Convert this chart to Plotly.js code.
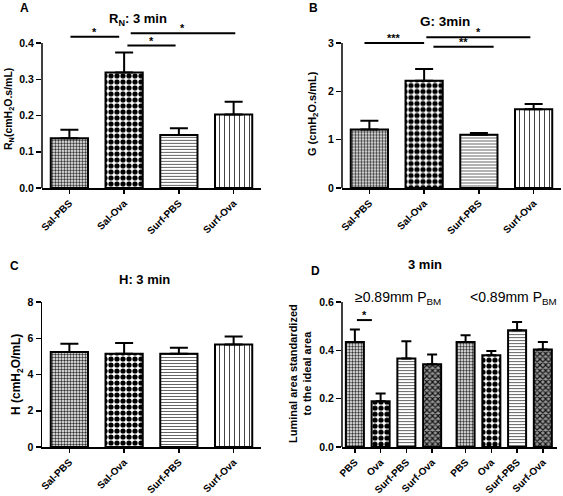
<!DOCTYPE html>
<html><head><meta charset="utf-8">
<script src="https://cdn.plot.ly/plotly-3.0.1.min.js"></script>
<style>html,body{margin:0;padding:0;background:#fff}</style>
</head><body><div id="chart" style="width:563px;height:496px"></div>
<script>
// ---------- data ----------
const groups = ['Sal-PBS', 'Sal-Ova', 'Surf-PBS', 'Surf-Ova'];
const rnMean = [0.137, 0.319, 0.146, 0.203];
const rnSem  = [0.024, 0.055, 0.019, 0.035];
const rnTicks = [0, 0.1, 0.2, 0.3, 0.4];
const rnSigFrom  = [0.02, 1.06, 1.12];
const rnSigTo    = [0.91, 1.94, 3.03];
const rnSigY     = [0.417, 0.393, 0.427];
const rnSigLabel = ['*', '*', '*'];

const gMean = [1.21, 2.22, 1.10, 1.63];
const gSem  = [0.18, 0.24, 0.04, 0.11];
const gTicks = [0, 1, 2, 3];
const gSigFrom  = [-0.09, 1.17, 1.04];
const gSigTo    = [1.00, 2.27, 2.94];
const gSigY     = [3.00, 2.92, 3.12];
const gSigLabel = ['***', '**', '*'];

const hMean = [5.24, 5.15, 5.15, 5.65];
const hSem  = [0.46, 0.59, 0.33, 0.45];
const hTicks = [0, 2, 4, 6, 8];

const dLabels = ['PBS', 'Ova', 'Surf-PBS', 'Surf-Ova'];
const dLargeMean = [0.434, 0.189, 0.366, 0.342];
const dLargeSem  = [0.052, 0.032, 0.071, 0.041];
const dSmallMean = [0.434, 0.379, 0.483, 0.403];
const dSmallSem  = [0.028, 0.018, 0.034, 0.031];
const dTicks = [0, 0.2, 0.4, 0.6];
const dSigFrom  = [0.08];
const dSigTo    = [0.66];
const dSigY     = [0.525];
const dSigLabel = ['*'];

// ---------- styles ----------
const FONT = 'Liberation Sans, Arial, sans-serif';
const W = 563, H = 496;
const px = v => v / W;
const py = v => (H - v) / H;

const patA = {shape: ['.', '.', '-', '|'], size: [3, 6, 3, 5], solidity: [0.5, 0.6, 0.35, 0.2],
              fgcolor: ['#333', '#000', '#666', '#444'], bgcolor: '#fff', fillmode: 'replace'};
const patD = {shape: ['.', '.', '-', 'x', '.', '.', '-', 'x'], size: [3, 6, 3, 4, 3, 6, 3, 4],
              solidity: [0.5, 0.6, 0.35, 0.5, 0.5, 0.6, 0.35, 0.5],
              fgcolor: ['#333', '#000', '#666', '#111', '#333', '#000', '#666', '#111'],
              bgcolor: ['#fff', '#fff', '#fff', '#999', '#fff', '#fff', '#fff', '#999'], fillmode: 'replace'};

function barTrace(x, y, sem, xa, ya, width, capw, pat) {
  return {type: 'bar', x: x, y: y, xaxis: xa, yaxis: ya, width: width,
    marker: {color: '#fff', line: {color: '#000', width: 2}, pattern: pat},
    error_y: {type: 'data', symmetric: false, array: sem, arrayminus: sem.map(() => 0),
              color: '#000', thickness: 2, width: capw},
    hoverinfo: 'skip', showlegend: false};
}

const idx = groups.map((_, i) => i);
const dX = dLabels.map((_, i) => i).concat(dLabels.map((_, i) => i + 4.3));

const traces = [
  barTrace(idx, rnMean, rnSem, 'x', 'y', 0.68, 9, patA),
  barTrace(idx, gMean, gSem, 'x2', 'y2', 0.68, 9, patA),
  barTrace(idx, hMean, hSem, 'x3', 'y3', 0.68, 9, patA),
  barTrace(dX, dLargeMean.concat(dSmallMean), dLargeSem.concat(dSmallSem), 'x4', 'y4', 0.7, 5, patD)
];

const tickFontX = {family: FONT, size: 10, color: '#000', weight: 'bold'};
const tickFontY = {family: FONT, size: 10.5, color: '#000', weight: 'bold'};

function xAxis(domain, anchor, range, tickvals, ticktext) {
  return {domain: domain, anchor: anchor, range: range, tickvals: tickvals, ticktext: ticktext,
    tickangle: -45, showline: true, linecolor: '#000', linewidth: 1.5, ticks: 'outside',
    ticklen: 4, tickwidth: 1.5, tickcolor: '#000', tickfont: tickFontX, showgrid: false,
    zeroline: false, fixedrange: true};
}
function yAxis(domain, anchor, range, tickvals, fmt, showline) {
  return {domain: domain, anchor: anchor, range: range, tickvals: tickvals, tickformat: fmt,
    showline: showline, linecolor: '#000', linewidth: 1.5, ticks: 'outside', ticklen: 5,
    tickwidth: 1.5, tickcolor: '#000', tickfont: tickFontY, showgrid: false, zeroline: false,
    fixedrange: true};
}

const shapes = [];
const annotations = [];
function yLine(xa, ya, top) {
  shapes.push({type: 'line', xref: xa + ' domain', x0: 0, x1: 0, yref: ya, y0: 0, y1: top,
               line: {color: '#000', width: 1.5}});
}
function sig(xa, ya, from, to, ys, labels, shift) {
  from.forEach((f, i) => {
    shapes.push({type: 'line', xref: xa, yref: ya, x0: f, x1: to[i], y0: ys[i], y1: ys[i],
                 line: {color: '#000', width: 2}});
    annotations.push({xref: xa, yref: ya, x: (f + to[i]) / 2, y: ys[i], text: labels[i],
      showarrow: false, yanchor: 'bottom', yshift: shift, font: {family: FONT, size: 11, color: '#000', weight: 'bold'}});
  });
}
yLine('x', 'y', 0.4);
yLine('x2', 'y2', 3);
yLine('x4', 'y4', 0.6);
sig('x', 'y', rnSigFrom, rnSigTo, rnSigY, rnSigLabel, -3);
sig('x2', 'y2', gSigFrom, gSigTo, gSigY, gSigLabel, -3);
sig('x4', 'y4', dSigFrom, dSigTo, dSigY, dSigLabel, -3);

function text(x, y, t, size, bold, extra) {
  annotations.push(Object.assign({xref: 'paper', yref: 'paper', x: px(x), y: py(y), text: t,
    showarrow: false, xanchor: 'center', yanchor: 'middle',
    font: {family: FONT, size: size, color: '#000', weight: bold ? 'bold' : 'normal'}}, extra || {}));
}
// panel letters
text(24, 8, 'A', 12, true);
text(313, 8, 'B', 12, true);
text(15, 266, 'C', 12, true);
text(315, 271, 'D', 12, true);
// panel titles
text(138, 19, 'R<sub>N</sub>: 3 min', 13, true);
text(445, 21, 'G: 3min', 13.5, true);
text(144, 279, 'H: 3 min', 13, true);
text(425, 264, '3 min', 13, true);
// y-axis titles
text(9, 109, 'R<sub>N</sub>(cmH<sub>2</sub>O.s/mL)', 10.5, true, {textangle: -90});
text(313, 114, 'G (cmH<sub>2</sub>O.s/mL)', 11, true, {textangle: -90});
text(17, 375, 'H (cmH<sub>2</sub>O/mL)', 12, true, {textangle: -90});
text(300, 374, 'Luminal area standardized<br>to the ideal area', 11, true, {textangle: -90});
// group captions in D
annotations.push({xref: 'x4', yref: 'y4', x: 1.67, y: 0.616, text: '≥0.89mm P<sub>BM</sub>', showarrow: false,
  font: {family: FONT, size: 14, color: '#000'}});
annotations.push({xref: 'x4', yref: 'y4', x: 6.15, y: 0.616, text: '<0.89mm P<sub>BM</sub>', showarrow: false,
  font: {family: FONT, size: 14, color: '#000'}});

const layout = {
  width: W, height: H, margin: {l: 0, r: 0, t: 0, b: 0},
  paper_bgcolor: '#fff', plot_bgcolor: 'rgba(0,0,0,0)', showlegend: false, bargap: 0,
  font: {family: FONT, color: '#000'},
  xaxis:  xAxis([px(42), px(261)], 'y', [-0.5, 3.5], idx, groups),
  yaxis:  yAxis([py(188), py(24.9)], 'x', [0, 0.45], rnTicks, '.1f', false),
  xaxis2: xAxis([px(342), px(561)], 'y2', [-0.5, 3.5], idx, groups),
  yaxis2: yAxis([py(188), py(28.5)], 'x2', [0, 3.3], gTicks, 'd', false),
  xaxis3: xAxis([px(42), px(261)], 'y3', [-0.5, 3.5], idx, groups),
  yaxis3: yAxis([py(447), py(302)], 'x3', [0, 8], hTicks, 'd', true),
  xaxis4: xAxis([px(342), px(557)], 'y4', [-0.5, 7.85], dX, dLabels.concat(dLabels)),
  yaxis4: yAxis([py(447), py(297.1)], 'x4', [0, 0.62], dTicks, '.1f', false),
  shapes: shapes, annotations: annotations
};
Plotly.newPlot('chart', traces, layout, {staticPlot: true, displayModeBar: false});
</script></body></html>
